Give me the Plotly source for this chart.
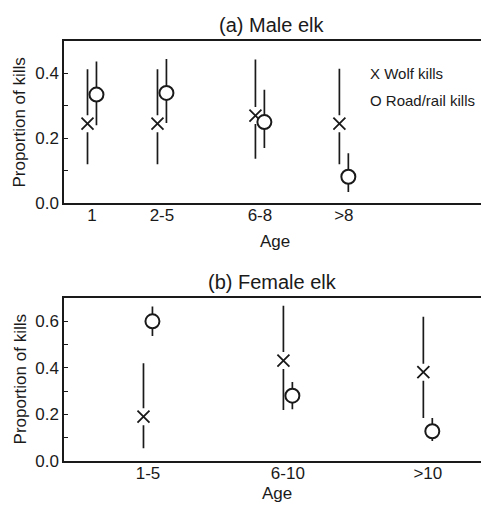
import plotly.graph_objects as go

# ---- data ----
male_ages = ["1", "2-5", "6-8", ">8"]
male_age_mid = [1, 3.5, 7, 10]
male_wolf = [0.245, 0.245, 0.27, 0.245]
male_wolf_lo = [0.12, 0.12, 0.137, 0.12]
male_wolf_hi = [0.413, 0.413, 0.443, 0.415]
male_road = [0.335, 0.34, 0.25, 0.081]
male_road_lo = [0.24, 0.247, 0.17, 0.034]
male_road_hi = [0.437, 0.445, 0.35, 0.154]

female_ages = ["1-5", "6-10", ">10"]
female_age_mid = [3, 8, 13]
female_wolf = [0.19, 0.431, 0.381]
female_wolf_lo = [0.054, 0.219, 0.184]
female_wolf_hi = [0.42, 0.667, 0.62]
female_road = [0.60, 0.28, 0.127]
female_road_lo = [0.537, 0.222, 0.085]
female_road_hi = [0.664, 0.339, 0.184]

INK = "#1a1a1a"
FONT = "Liberation Sans, Arial, Helvetica, sans-serif"
DX = 0.16
W, H, ML = 481, 511, 64

fig = go.Figure()


def add_panel(mid, wolf, wlo, whi, road, rlo, rhi, xa, ya):
    xw = [m - DX for m in mid]
    xr = [m + DX for m in mid]
    # wolf error bars with white mask behind the X
    fig.add_trace(go.Scatter(
        x=xw, y=wolf, mode="markers", xaxis=xa, yaxis=ya,
        marker=dict(symbol="square", size=17, color="white", line=dict(width=0)),
        error_y=dict(type="data", symmetric=False,
                     array=[h - v for h, v in zip(whi, wolf)],
                     arrayminus=[v - l for v, l in zip(wolf, wlo)],
                     width=0, thickness=1.7, color=INK),
        hoverinfo="skip"))
    fig.add_trace(go.Scatter(
        x=xw, y=wolf, mode="markers", xaxis=xa, yaxis=ya, name="Wolf kills",
        marker=dict(symbol="x-thin-open", size=12, color=INK,
                    line=dict(width=1.8, color=INK))))
    # road/rail kills
    fig.add_trace(go.Scatter(
        x=xr, y=road, mode="markers", xaxis=xa, yaxis=ya, name="Road/rail kills",
        marker=dict(symbol="circle", size=14, color="white",
                    line=dict(width=2, color=INK)),
        error_y=dict(type="data", symmetric=False,
                     array=[h - v for h, v in zip(rhi, road)],
                     arrayminus=[v - l for v, l in zip(road, rlo)],
                     width=0, thickness=1.7, color=INK)))


add_panel(male_age_mid, male_wolf, male_wolf_lo, male_wolf_hi,
          male_road, male_road_lo, male_road_hi, "x", "y")
add_panel(female_age_mid, female_wolf, female_wolf_lo, female_wolf_hi,
          female_road, female_road_lo, female_road_hi, "x2", "y2")

axis_common = dict(showline=True, linecolor=INK, linewidth=1.5, showgrid=False,
                   zeroline=False, tickfont=dict(size=17, color=INK, family=FONT))

fig.update_layout(
    width=W, height=H, autosize=False,
    margin=dict(l=ML, r=0, t=0, b=0),
    paper_bgcolor="white", plot_bgcolor="white",
    showlegend=False,
    font=dict(family=FONT, color=INK),
    xaxis=dict(domain=[0, 1], range=[0, 14.9], anchor="y", mirror=True,
               tickmode="array", tickvals=male_age_mid, ticktext=male_ages,
               ticks="", ticklabelstandoff=-4, **axis_common),
    yaxis=dict(domain=[1 - 207 / H, 1 - 42 / H], range=[0, 0.5], anchor="x",
               tickmode="array", tickvals=[0, 0.2, 0.4], tickformat=".1f",
               ticks="inside", ticklen=4, tickcolor=INK,
               minor=dict(tickmode="array", tickvals=[0.1, 0.3], ticks="inside",
                          ticklen=4, tickcolor=INK),
               **axis_common),
    xaxis2=dict(domain=[0, 1], range=[0, 14.9], anchor="y2", mirror=True,
                tickmode="array", tickvals=female_age_mid, ticktext=female_ages,
                ticks="", ticklabelstandoff=-4, **axis_common),
    yaxis2=dict(domain=[1 - 470 / H, 1 - 304 / H], range=[0, 0.7], anchor="x2",
                tickmode="array", tickvals=[0, 0.2, 0.4, 0.6], tickformat=".1f",
                ticks="inside", ticklen=4, tickcolor=INK,
                minor=dict(tickmode="array", tickvals=[0.1, 0.3, 0.5], ticks="inside",
                           ticklen=4, tickcolor=INK),
                **axis_common),
)

ann = []
def txt(text, px, py, size, xanchor="center", yanchor="middle", angle=0):
    ann.append(dict(text=text, x=(px - ML) / (W - ML), y=1 - py / H,
                    xref="paper", yref="paper",
                    xanchor=xanchor, yanchor=yanchor, showarrow=False, textangle=angle,
                    font=dict(size=size, family=FONT, color=INK)))

txt("(a) Male elk", 271, 25, 20)
txt("(b) Female elk", 272, 288, 20)
txt("Proportion of kills", 20, 125, 17, angle=-90)
txt("Proportion of kills", 20, 387, 17, angle=-90)
txt("Age", 275, 246, 17)
txt("Age", 277, 503, 17)
txt("X Wolf kills", 368, 75, 15, xanchor="left")
txt("O Road/rail kills", 368, 102, 15, xanchor="left")
fig.update_layout(annotations=ann)

page_fix = (
    "var s='margin:0;padding:0;overflow:hidden;width:481px;height:511px';"
    "document.documentElement.style.cssText=s;"
    "document.body.style.cssText=s;"
    "var g=document.getElementById('{plot_id}');"
    "if(g){g.style.display='block';if(g.parentElement){g.parentElement.style.cssText='margin:0;padding:0;line-height:0;height:511px;overflow:hidden';}}"
)

fig.write_html(
    "out.html",
    config={"displayModeBar": False, "responsive": False},
    post_script=page_fix,
)
